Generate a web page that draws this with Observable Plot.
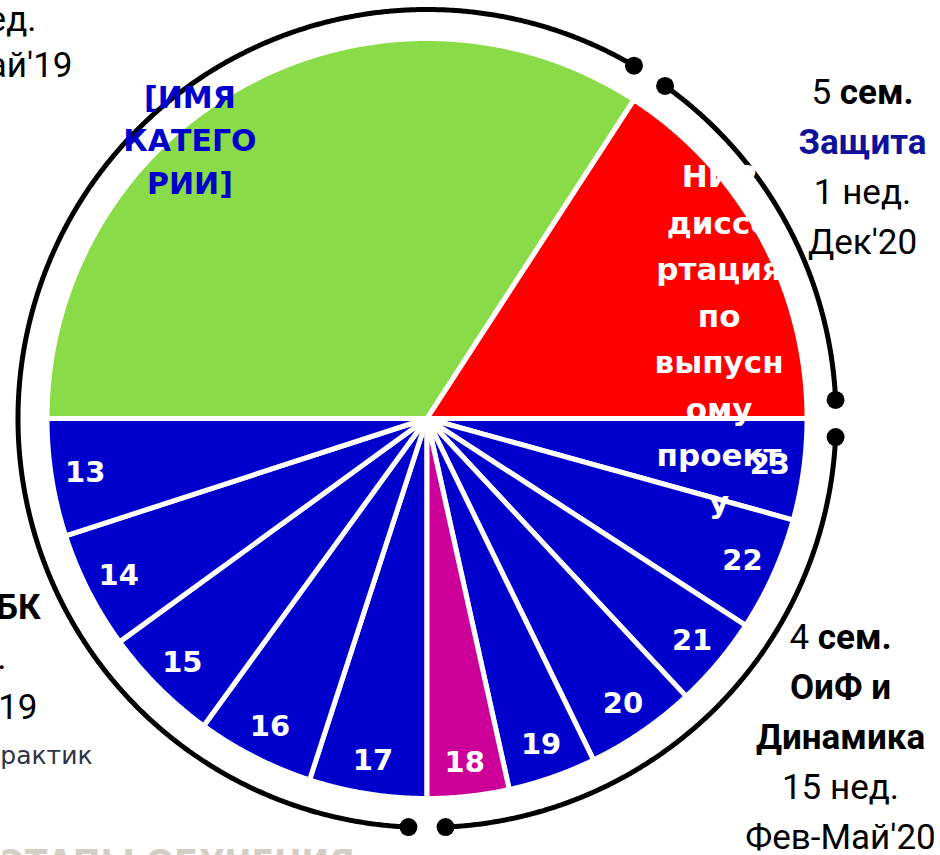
<!DOCTYPE html>
<html>
<head>
<meta charset="utf-8">
<script src="https://cdn.jsdelivr.net/npm/d3@7"></script>
<script src="https://cdn.jsdelivr.net/npm/@observablehq/plot@0.6"></script>
<style>
  html, body { margin: 0; padding: 0; background: #fff; }
  #chart svg { display: block; }
</style>
</head>
<body>
<div id="chart"></div>
<script>
// ---- data (clockwise, starting at the bottom of the pie) ----
const categories = ["17", "16", "15", "14", "13", "[ИМЯ КАТЕГОРИИ]", "НИР диссертация по выпусному проекту", "23", "22", "21", "20", "19", "18"];
const sliceLabels = ["17", "16", "15", "14", "13", "[ИМЯ\nКАТЕГО\nРИИ]", "НИР\nдиссе\nртация\nпо\nвыпусн\nому\nпроект\nу", "23", "22", "21", "20", "19", "18"];
const values = [18, 18, 18, 18, 18, 123, 57, 15.5, 17.5, 14, 17, 13.5, 12.5];
const sliceKinds = ["week", "week", "week", "week", "week", "category", "nir", "week", "week", "week", "week", "week", "current"];
const slicePhases = ["A", "A", "A", "A", "A", "A", "B", "C", "C", "C", "C", "C", "C"];

// phase captions (outside the ring)
const captionTopRight = ["5 сем.", "Защита", "1 нед.", "Дек′20"];
const captionBottomRight = ["4 сем.", "ОиФ и", "Динамика", "15 нед.", "Фев-Май′20"];
const captionTopLeft = ["17 нед.", "Сен′18-Май′19"];
const captionBottomLeft = ["Статика и ОиБК", "15 нед.", "Сен-Дек′19"];
const footerFragment = ["Практик"];
const bottomTitle = ["ЭТАПЫ ОБУЧЕНИЯ"];

// ---- geometry ----
const W = 940, H = 855;
const cx = 426.5, cy = 418, R = 380, Rring = 409, Rlabel = 346;
const deg = Math.PI / 180;
const gap = 2.6 * deg;

const arcs = d3.pie().sort(null).value((d, i) => values[i])
  .startAngle(Math.PI).endAngle(3 * Math.PI)(categories);

const px = (r, a) => cx + r * Math.sin(a);
const py = (r, a) => cy - r * Math.cos(a);

const slicePts = [];
arcs.forEach((a, i) => {
  const n = Math.max(2, Math.ceil((a.endAngle - a.startAngle) / (0.25 * deg)));
  slicePts.push({cat: categories[i], kind: sliceKinds[i], x: cx, y: cy});
  for (let k = 0; k <= n; k++) {
    const t = a.startAngle + (a.endAngle - a.startAngle) * k / n;
    slicePts.push({cat: categories[i], kind: sliceKinds[i], x: px(R, t), y: py(R, t)});
  }
});

// ring arcs per phase
const phaseNames = Array.from(new Set(slicePhases));
const ringPts = [], ringEnds = [];
phaseNames.forEach(p => {
  const idx = slicePhases.map((q, i) => q === p ? i : -1).filter(i => i >= 0);
  const a0 = d3.min(idx, i => arcs[i].startAngle) + gap;
  const a1 = d3.max(idx, i => arcs[i].endAngle) - gap;
  const n = Math.ceil((a1 - a0) / (0.25 * deg));
  for (let k = 0; k <= n; k++) {
    const t = a0 + (a1 - a0) * k / n;
    ringPts.push({phase: p, x: px(Rring, t), y: py(Rring, t)});
  }
  ringEnds.push({x: px(Rring, a0), y: py(Rring, a0)}, {x: px(Rring, a1), y: py(Rring, a1)});
});

// slice labels at mid angle
const labelData = arcs.map((a, i) => {
  const m = (a.startAngle + a.endAngle) / 2;
  return {text: sliceLabels[i], kind: sliceKinds[i], x: px(Rlabel, m), y: py(Rlabel, m)};
});
const weekLabels = labelData.filter(d => d.kind === "week" || d.kind === "current");
const catLabel = labelData.filter(d => d.kind === "category");
const nirLabel = labelData.filter(d => d.kind === "nir");

// caption blocks: anchored to the ring arc of their phase
function phaseMid(p) {
  const idx = slicePhases.map((q, i) => q === p ? i : -1).filter(i => i >= 0);
  const a0 = d3.min(idx, i => arcs[i].startAngle), a1 = d3.max(idx, i => arcs[i].endAngle);
  const m = (a0 + a1) / 2;
  return {x: px(Rring, m), y: py(Rring, m)};
}
const lineStep = 50;
function block(lines, anchor, ddx, ddy) {
  return lines.map((t, i) => ({text: t, x: anchor.x + ddx, y: anchor.y + ddy + i * lineStep, i}));
}
const mB = phaseMid("B"), mC = phaseMid("C");
const trLines = block(captionTopRight, mB, 862 - mB.x, 103 - mB.y);
const brLines = block(captionBottomRight, mC, 840 - mC.x, 648 - mC.y);

const fontNarrow = "Roboto, 'Liberation Sans', sans-serif";
const fontPie = "'DejaVu Sans', sans-serif";
const edgeText = (txt, ddx, ddy, extra) => Plot.text(txt, Object.assign({frameAnchor: "top-left", text: d => d, textAnchor: "end", lineAnchor: "bottom", dx: ddx, dy: ddy, fontSize: 35, fontFamily: fontNarrow, fill: "black"}, extra || {}));

const plot = Plot.plot({
  width: W, height: H,
  margin: 0,
  x: {domain: [0, W], range: [0, W], axis: null},
  y: {domain: [0, H], range: [0, H], axis: null},
  color: {domain: ["category", "nir", "week", "current"], range: ["#89DC47", "#FF0000", "#0000CC", "#CC0099"]},
  marks: [
    Plot.line(slicePts, {x: "x", y: "y", z: "cat", fill: "kind", stroke: "white", strokeWidth: 5, strokeLinejoin: "round", curve: "linear-closed"}),
    Plot.line(ringPts, {x: "x", y: "y", z: "phase", stroke: "black", strokeWidth: 5}),
    Plot.dot(ringEnds, {x: "x", y: "y", r: 9, fill: "black"}),
    Plot.text(weekLabels, {x: "x", y: "y", text: "text", fill: "white", fontSize: 29, fontWeight: "bold", fontFamily: fontPie, lineAnchor: "middle"}),
    Plot.text(catLabel, {x: "x", y: "y", text: "text", fill: "#0000CC", fontSize: 30, fontWeight: "bold", fontFamily: fontPie, lineAnchor: "middle", lineHeight: 1.42, dx: -72, dy: 23}),
    Plot.text(nirLabel, {x: "x", y: "y", text: "text", fill: "white", fontSize: 31, fontWeight: "bold", fontFamily: fontPie, lineAnchor: "middle", lineHeight: 1.5, dx: -12, dy: 81.5}),
    // right captions
    Plot.text(trLines.filter(d => d.i === 0), {x: "x", y: "y", text: "text", fontSize: 35, fontWeight: "bold", fontFamily: fontNarrow, lineAnchor: "bottom", fill: "black"}),
    Plot.text(trLines.filter(d => d.i === 1), {x: "x", y: "y", text: "text", fontSize: 35, fontWeight: "bold", fontFamily: fontNarrow, lineAnchor: "bottom", fill: "#10109A"}),
    Plot.text(trLines.filter(d => d.i >= 2), {x: "x", y: "y", text: "text", fontSize: 35, fontFamily: fontNarrow, lineAnchor: "bottom", fill: "black"}),
    Plot.text(brLines.filter(d => d.i <= 2), {x: "x", y: "y", text: "text", fontSize: 35, fontWeight: "bold", fontFamily: fontNarrow, lineAnchor: "bottom", fill: "black"}),
    Plot.text(brLines.filter(d => d.i >= 3), {x: "x", y: "y", text: "text", fontSize: 35, fontFamily: fontNarrow, lineAnchor: "bottom", fill: "black"}),
    // left caption fragments (cut by the frame)
    edgeText(captionTopLeft.slice(0, 1), 36, 30),
    edgeText(captionTopLeft.slice(1, 2), 72, 76),
    edgeText(captionBottomLeft.slice(0, 1), 40, 618, {fontWeight: "bold"}),
    edgeText(captionBottomLeft.slice(1, 2), 6, 668),
    edgeText(captionBottomLeft.slice(2, 3), 37, 718),
    edgeText(footerFragment, 92, 763, {fontSize: 25, fontFamily: "'DejaVu Sans', sans-serif", fill: "#2E3244"}),
    Plot.text(bottomTitle, {frameAnchor: "top-left", text: d => d, textAnchor: "start", lineAnchor: "bottom", dx: 0, dy: 873, fontSize: 33, fontWeight: "bold", fontFamily: fontPie, fill: "#D2CEC6"})
  ]
});

// mixed weight: leading number regular, "сем." bold
d3.select(plot).selectAll("text").each(function() {
  const t = this.textContent;
  const m = /^(\d+) (сем\.)$/.exec(t);
  if (m && !this.querySelector("tspan")) {
    this.textContent = "";
    d3.select(this).append("tspan").attr("font-weight", "normal").text(m[1] + " ");
    d3.select(this).append("tspan").attr("font-weight", "bold").text(m[2]);
  }
});

document.getElementById("chart").append(plot);
</script>
</body>
</html>
